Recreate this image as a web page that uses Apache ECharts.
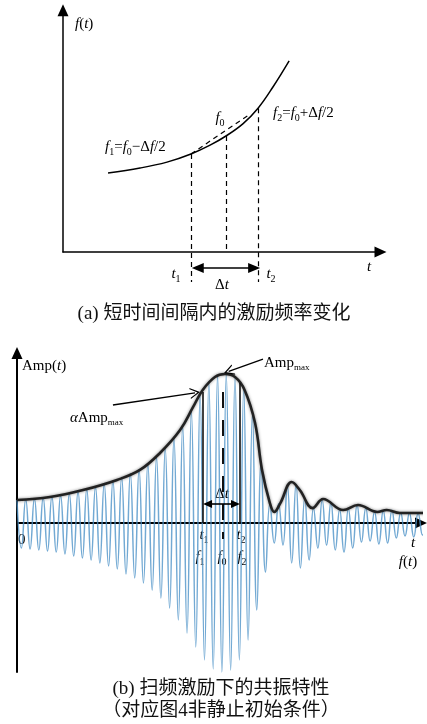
<!DOCTYPE html>
<html>
<head>
<meta charset="utf-8">
<script src="https://cdn.jsdelivr.net/npm/echarts@6/dist/echarts.min.js"></script>
<style>
html, body { margin: 0; padding: 0; background: #fff; }
#chart { width: 427px; height: 724px; }
</style>
</head>
<body>
<div id="chart"></div>
<script>
// (a) 激励频率曲线 f(t)
var freqT = [1.39, 2.38, 3.21, 3.95, 4.54, 5.03, 5.56, 6.02, 6.48, 6.98]
var freqV = [2.42, 2.57, 2.75, 3.0, 3.27, 3.55, 3.93, 4.4, 5.05, 5.85]
var aT1 = 3.95, aT0 = 5.03, aT2 = 6.02
var aF1 = 3.0, aF0 = 3.55, aF2 = 4.4

// (b) 扫频响应: 每个周期的波峰 / 波谷
var oscHigh = [0.154, 0.158, 0.163, 0.169, 0.176, 0.185, 0.196, 0.21, 0.225, 0.242,
  0.262, 0.283, 0.307, 0.333, 0.36, 0.395, 0.44, 0.5, 0.57, 0.65,
  0.75, 0.86, 0.945, 0.99, 1.0, 0.975, 0.9, 0.73, 0.4, 0.13,
  0.13, 0.25, 0.26, 0.17, 0.1, 0.155, 0.14, 0.09, 0.095, 0.12,
  0.1, 0.075, 0.083, 0.085, 0.068, 0.067, 0.066, 0.066]
var oscLow = [-0.168, -0.174, -0.181, -0.188, -0.195, -0.208, -0.221, -0.235, -0.248, -0.268,
  -0.289, -0.309, -0.342, -0.369, -0.403, -0.45, -0.503, -0.57, -0.651, -0.738,
  -0.832, -0.919, -0.98, -1.0, -0.987, -0.919, -0.785, -0.584, -0.329, -0.134,
  -0.148, -0.268, -0.302, -0.248, -0.168, -0.148, -0.181, -0.195, -0.168, -0.128,
  -0.121, -0.141, -0.134, -0.101, -0.087, -0.094, -0.081]
// 包络线
var envT = [0, 3.78, 7.57, 11.47, 14.1, 16.4, 18.7, 20.2, 21.3, 22.7, 23.85, 25.0, 26.1, 27.3,
  28.1, 29.0, 29.5, 30.2, 31.5, 32.45, 33.9, 35.1, 37.4, 39.1, 41.3, 42.4, 43.9, 47]
var envV = [0.154, 0.174, 0.221, 0.289, 0.356, 0.47, 0.624, 0.779, 0.893, 0.98, 1.0, 0.98, 0.893, 0.671,
  0.356, 0.134, 0.074, 0.134, 0.275, 0.22, 0.1, 0.161, 0.087, 0.121, 0.074, 0.087, 0.067, 0.067]
var bT1 = 21.33, bT0 = 23.62, bT2 = 25.52

var SERIF = '"Liberation Serif", "Times New Roman", serif'
var CAPTION = '"Liberation Serif", "Noto Sans CJK SC", sans-serif'

var oscData = []
for (var k = 0; k < oscHigh.length; k++) {
  oscData.push([k, oscHigh[k]])
  if (k < oscLow.length) oscData.push([k + 0.5, oscLow[k]])
}
var envData = envT.map(function (t, i) { return [t, envV[i]] })
var freqData = freqT.map(function (t, i) { return [t, freqV[i]] })

var rich = {
  n: { fontFamily: SERIF, fontSize: 15, fill: '#000' },
  i: { fontFamily: SERIF, fontSize: 15, fontStyle: 'italic', fill: '#000' },
  s: { fontFamily: SERIF, fontSize: 10, padding: [10, 0, 0, 0], fill: '#000' },
  m: { fontFamily: SERIF, fontSize: 9, padding: [9, 0, 0, 0], fill: '#000' }
}
function txt (x, y, text, align) {
  return {
    type: 'text', x: x, y: y, silent: true,
    style: { text: text, rich: rich, fontFamily: SERIF, fontSize: 15, fill: '#000',
      align: align || 'left', verticalAlign: 'middle' }
  }
}
function cap (x, y, text) {
  return {
    type: 'text', x: x, y: y, silent: true,
    style: { text: text, fontFamily: CAPTION, fontSize: 19, fill: '#111',
      align: 'center', verticalAlign: 'middle' }
  }
}

function ax (grid, min, max, w) {
  return {
    gridIndex: grid, type: 'value', min: min, max: max,
    axisLine: { onZero: true, symbol: ['none', 'triangle'], symbolSize: [11, 12],
      lineStyle: { color: '#000', width: w } },
    axisTick: { show: false }, axisLabel: { show: false }, splitLine: { show: false }
  }
}
function hidden (grid, min, max) {
  return { gridIndex: grid, type: 'value', min: min, max: max, show: false }
}
function marks (xi, yi, lines, style, symbol, size) {
  return {
    type: 'line', xAxisIndex: xi, yAxisIndex: yi, data: [], clip: false, silent: true,
    markLine: {
      silent: true, animation: false, symbol: symbol || ['none', 'none'], symbolSize: size || 10,
      label: { show: false }, lineStyle: style,
      emphasis: { disabled: true },
      data: lines.map(function (l) { return [{ coord: l[0] }, { coord: l[1] }] })
    }
  }
}
var chevron = 'path://M0,12 L6,0 L12,12 L10.6,12 L6,3 L1.4,12 Z'

var chart = echarts.init(document.getElementById('chart'), null, { renderer: 'canvas' })
chart.setOption({
  animation: false,
  backgroundColor: '#fff',
  grid: [
    { left: 63, top: 10.2, width: 317.5, height: 241.8 },
    { left: 17, top: 353, width: 404, height: 319 },
    // 与 (a) 同比例、向下延伸到 t 轴以下, 用于虚线和 Δt
    { left: 63, top: 10.2, width: 317.5, height: 272.84 }
  ],
  xAxis: [ax(0, 0, 9.8, 1.5), ax(1, 0, 46.33, 2), hidden(2, 0, 9.8)],
  yAxis: [ax(0, 0, 7.4, 1.5), ax(1, -1, 1.141, 2), hidden(2, -0.95, 7.4)],
  series: [
    {
      type: 'line', xAxisIndex: 0, yAxisIndex: 0, data: freqData, smooth: 0.4, clip: false,
      showSymbol: false, lineStyle: { color: '#000', width: 1.5 }
    },
    marks(2, 2, [
      [[aT1, aF1], [aT1, -0.92]],
      [[aT0, aF0], [aT0, 0]],
      [[aT2, aF2], [aT2, -0.92]],
      [[aT1, aF1], [5.77, 4.22]]
    ], { color: '#000', width: 1.2, type: [5, 4] }),
    marks(2, 2, [[[4.16, -0.49], [5.9, -0.49]]],
      { color: '#000', width: 1.6, type: 'solid' }, ['triangle', 'triangle'], [10, 12]),

    {
      type: 'line', xAxisIndex: 1, yAxisIndex: 1, data: oscData, smooth: 0.5, clip: false,
      showSymbol: false, z: 2,
      lineStyle: { color: '#4f93c8', width: 1.5, opacity: 0.8 }
    },
    {
      type: 'line', xAxisIndex: 1, yAxisIndex: 1, data: envData, smooth: 0.4, clip: false,
      showSymbol: false, z: 4,
      lineStyle: { color: '#222', width: 2.6, shadowBlur: 3, shadowColor: 'rgba(0,0,0,0.5)' }
    },
    marks(1, 1, [
      [[bT1, 0.879], [bT1, 0]],
      [[bT2, 0.94], [bT2, 0]]
    ], { color: '#111', width: 1.6, type: 'solid' }),
    marks(1, 1, [[[bT0, 0.879], [bT0, -0.107]]],
      { color: '#111', width: 2, type: [16, 12] }),
    marks(1, 1, [[[21.85, 0.128], [25.06, 0.128]]],
      { color: '#000', width: 1.6, type: 'solid' }, ['triangle', 'triangle'], [8, 9]),
    marks(1, 1, [
      [[28.21, 1.1], [24.28, 1.018]],
      [[11.0, 0.792], [20.42, 0.874]]
    ], { color: '#000', width: 1.3, type: 'solid' }, ['none', chevron], [11, 10])
  ],
  graphic: [
    // (a)
    txt(75, 24, '{i|f}{n|(}{i|t}{n|)}'),
    txt(105, 147, '{i|f}{s|1}{n|=}{i|f}{s|0}{n|−Δ}{i|f}{n|/2}'),
    txt(220, 118, '{i|f}{s|0}', 'center'),
    txt(273, 113, '{i|f}{s|2}{n|=}{i|f}{s|0}{n|+Δ}{i|f}{n|/2}'),
    txt(176, 274, '{i|t}{s|1}', 'center'),
    txt(271, 274, '{i|t}{s|2}', 'center'),
    txt(222, 285, '{n|Δ}{i|t}', 'center'),
    txt(369, 267, '{i|t}', 'center'),
    cap(214, 314, '(a) 短时间间隔内的激励频率变化'),
    // (b)
    txt(22, 366, '{n|Amp(}{i|t}{n|)}'),
    txt(264, 363, '{n|Amp}{m|max}'),
    txt(70, 418, '{i|α}{n|Amp}{m|max}'),
    txt(222, 494, '{n|Δ}{i|t}', 'center'),
    txt(204, 535, '{i|t}{s|1}', 'center'),
    txt(241, 535, '{i|t}{s|2}', 'center'),
    txt(200, 557, '{i|f}{s|1}', 'center'),
    txt(222, 557, '{i|f}{s|0}', 'center'),
    txt(242, 557, '{i|f}{s|2}', 'center'),
    txt(18, 540, '{n|0}'),
    txt(413, 543, '{i|t}', 'center'),
    txt(408, 562, '{i|f}{n|(}{i|t}{n|)}', 'center'),
    cap(221, 689, '(b) 扫频激励下的共振特性'),
    cap(221, 711, '（对应图4非静止初始条件）')
  ]
})
</script>
</body>
</html>
